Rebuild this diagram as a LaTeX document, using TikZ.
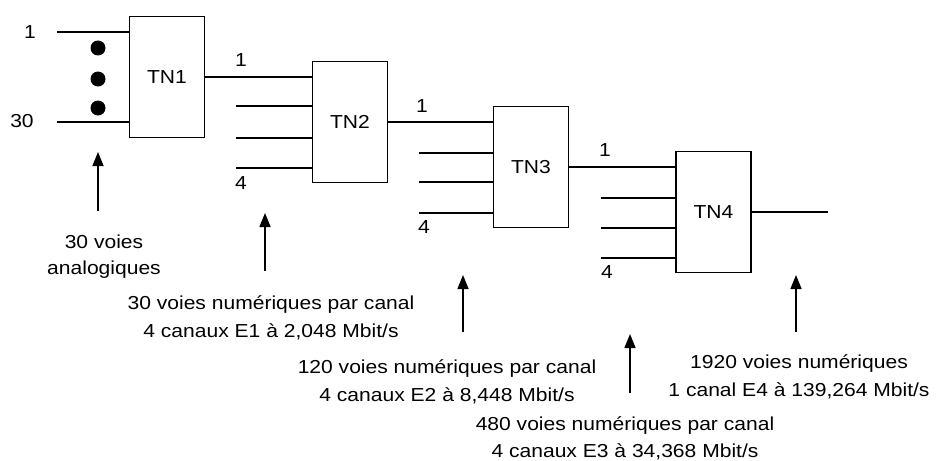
\documentclass[tikz,border=0pt]{standalone}
\usepackage{fontspec}
\setmainfont{Liberation Sans}[FakeStretch=1.12]
\usetikzlibrary{arrows.meta}
\begin{document}
\begin{tikzpicture}[x=1pt,y=-1pt,
  font=\fontsize{18.8}{28}\selectfont,
  tnbox/.style={draw, line width=1.5pt, minimum width=75pt, minimum height=121pt, inner sep=0pt},
  wire/.style={line width=1.5pt},
  uparrow/.style={line width=1.5pt, -{Triangle[width=11pt,length=14pt]}},
  lbl/.style={inner sep=0pt},
  txt/.style={align=center, inner sep=0pt},
  dotmark/.style={circle, fill=black, inner sep=0pt, minimum size=15pt}]
\fill[white] (0,0) rectangle (941,460);
\useasboundingbox (0,0) rectangle (941,460);

% boxes
\node[tnbox] (tn1) at (167,77) {TN1};
\node[tnbox] (tn2) at (350,122) {TN2};
\node[tnbox] (tn3) at (531,167) {TN3};
\node[tnbox] (tn4) at (713.5,212) {TN4};

% free ends
\coordinate (in1) at (57,32);
\coordinate (in30) at (57,122);
\coordinate (t2i2) at (236,106);
\coordinate (t2i3) at (236,138);
\coordinate (t2i4) at (236,168);
\coordinate (t3i2) at (419,153);
\coordinate (t3i3) at (419,182);
\coordinate (t3i4) at (419,213);
\coordinate (t4i2) at (601,198);
\coordinate (t4i3) at (601,228);
\coordinate (t4i4) at (601,258);
\coordinate (out) at (828,212);

% wires
\draw[wire] (in1) -- (in1 -| tn1.west);
\draw[wire] (in30) -- (in30 -| tn1.west);
\draw[wire] (tn1.east) -- (tn1.east -| tn2.west);
\draw[wire] (t2i2) -- (t2i2 -| tn2.west);
\draw[wire] (t2i3) -- (t2i3 -| tn2.west);
\draw[wire] (t2i4) -- (t2i4 -| tn2.west);
\draw[wire] (tn2.east) -- (tn2.east -| tn3.west);
\draw[wire] (t3i2) -- (t3i2 -| tn3.west);
\draw[wire] (t3i3) -- (t3i3 -| tn3.west);
\draw[wire] (t3i4) -- (t3i4 -| tn3.west);
\draw[wire] (tn3.east) -- (tn3.east -| tn4.west);
\draw[wire] (t4i2) -- (t4i2 -| tn4.west);
\draw[wire] (t4i3) -- (t4i3 -| tn4.west);
\draw[wire] (t4i4) -- (t4i4 -| tn4.west);
\draw[wire] (tn4.east) -- (out);

% dots
\node[dotmark] (d1) at (98,48) {};
\node[dotmark] (d2) at (98,79) {};
\node[dotmark] (d3) at (98,108) {};

% small labels
\node[lbl] (l1) at (30,32) {1};
\node[lbl] (l30) at (22,121) {30};
\node[lbl] (o1a) at (241,60) {1};
\node[lbl] (o4a) at (241,183) {4};
\node[lbl] (o1b) at (422,106) {1};
\node[lbl] (o4b) at (424,227) {4};
\node[lbl] (o1c) at (605,150) {1};
\node[lbl] (o4c) at (607,272) {4};

% arrows
\coordinate (a1b) at (98,211);  \coordinate (a1t) at (98,152);
\coordinate (a2b) at (265,271); \coordinate (a2t) at (265,213);
\coordinate (a3b) at (463,332); \coordinate (a3t) at (463,275);
\coordinate (a4b) at (630,393); \coordinate (a4t) at (630,334);
\coordinate (a5b) at (796,332); \coordinate (a5t) at (796,275);
\draw[uparrow] (a1b) -- (a1t);
\draw[uparrow] (a2b) -- (a2t);
\draw[uparrow] (a3b) -- (a3t);
\draw[uparrow] (a4b) -- (a4t);
\draw[uparrow] (a5b) -- (a5t);

% texts
\node[txt, font=\fontsize{18.8}{26}\selectfont] (tA) at (104,257) {30 voies\\analogiques};
\node[txt] (tB) at (271,318) {30 voies numériques par canal\\4 canaux E1 à 2,048 Mbit/s};
\node[txt] (tC) at (447,382) {120 voies numériques par canal\\4 canaux E2 à 8,448 Mbit/s};
\node[txt, font=\fontsize{18.8}{27}\selectfont] (tD) at (625,438) {480 voies numériques par canal\\4 canaux E3 à 34,368 Mbit/s};
\node[txt] (tE) at (799,377) {1920 voies numériques\\1 canal E4 à 139,264 Mbit/s};
\end{tikzpicture}
\end{document}
